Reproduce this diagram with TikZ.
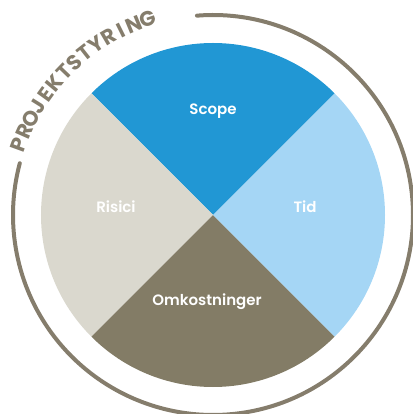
\documentclass[tikz,border=0pt]{standalone}
\usepackage{fontspec}
\setmainfont{Poppins}[BoldFont={Poppins SemiBold}]
\newfontfamily\poppinsbold{Poppins Bold}
\definecolor{scopeblue}{RGB}{33,151,212}
\definecolor{tidblue}{RGB}{165,214,245}
\definecolor{risgray}{RGB}{218,216,206}
\definecolor{omkbrown}{RGB}{131,124,102}
\definecolor{ringbrown}{RGB}{133,125,108}
\newcommand\ringfont{\poppinsbold\fontsize{21}{21}\selectfont}
\tikzset{
  lbl/.style={text=white, font=\fontsize{15}{17}\selectfont\bfseries},
  ring/.style={draw=ringbrown, line width=4pt, line cap=round},
  ringtxt/.style={text=ringbrown, font=\ringfont, inner sep=0pt, anchor=base},
}
\begin{document}
\begin{tikzpicture}[x=1pt,y=1pt]
\useasboundingbox (-213,-199) rectangle (199,215);
\def\R{172}
\fill[scopeblue] (0,0) -- (45:\R) arc[start angle=45, end angle=135, radius=\R] -- cycle;
\fill[risgray] (0,0) -- (135:\R) arc[start angle=135, end angle=225, radius=\R] -- cycle;
\fill[omkbrown] (0,0) -- (225:\R) arc[start angle=225, end angle=315, radius=\R] -- cycle;
\fill[tidblue] (0,0) -- (-45:\R) arc[start angle=-45, end angle=45, radius=\R] -- cycle;
\node[lbl] (scope) at (0,104) {Scope};
\node[lbl] (tid) at (92,8) {Tid};
\node[lbl] (risici) at (-97,8) {Risici};
\node[lbl] (omk) at (-6,-87) {Omkostninger};
\draw[ring] (94.6:200) arc[start angle=94.6, end angle=-195, radius=200];
% curved title, letter by letter
\def\rt{199}
\def\angA{160}
\def\angB{108.5}
\setbox0\hbox{\ringfont PROJEKTSTYRING}
\pgfmathsetmacro{\totw}{\wd0}
\pgfmathsetmacro{\arclen}{\rt*pi/180*(\angA-\angB)}
\pgfmathsetmacro{\gap}{(\arclen - \totw)/13}
\xdef\cum{0}
\foreach \l [count=\i] in {P,R,O,J,E,K,T,S,T,Y,R,I,N,G} {
  \setbox0\hbox{\ringfont\l}
  \pgfmathsetmacro{\w}{\wd0}
  \pgfmathsetmacro{\ang}{\angA - (\cum + \w/2)/\rt*180/pi}
  \node[ringtxt, rotate=\ang-90] (t\i) at (\ang:\rt) {\l};
  \pgfmathsetmacro{\nc}{\cum + \w + \gap}
  \xdef\cum{\nc}
}
\end{tikzpicture}
\end{document}
